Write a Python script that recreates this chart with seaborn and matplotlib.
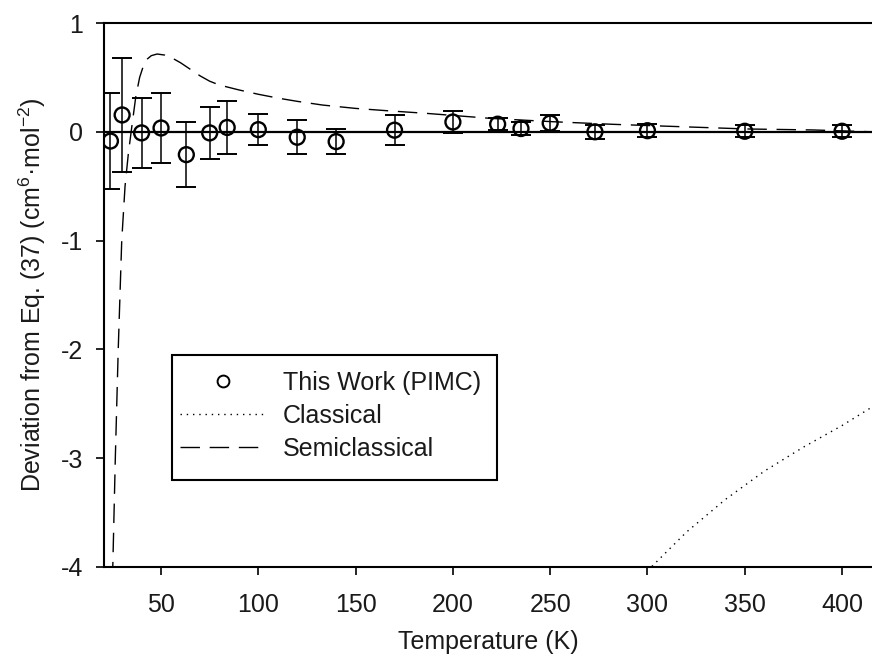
import numpy as np
import pandas as pd
import matplotlib
matplotlib.use("Agg")
import matplotlib.pyplot as plt
import seaborn as sns
from matplotlib.lines import Line2D
from matplotlib.patches import Rectangle

# ---- data ----
pimc_T = [24, 30, 40, 50, 63, 75, 84, 100, 120, 140, 170, 200, 223, 235, 250, 273, 300, 350, 400]
pimc_dev = [-0.085, 0.155, -0.01, 0.035, -0.21, -0.01, 0.04, 0.02, -0.05, -0.09, 0.015, 0.09, 0.07,
            0.03, 0.08, 0.0, 0.01, 0.005, 0.005]
pimc_err = [0.44, 0.52, 0.32, 0.32, 0.30, 0.24, 0.24, 0.14, 0.155, 0.115, 0.14, 0.10, 0.055,
            0.06, 0.075, 0.065, 0.06, 0.055, 0.055]

semi_T = [24.6, 25.2, 26.5, 28.0, 29.8, 31.5, 33.2, 35, 37, 39, 41, 43, 45, 48, 52, 56, 60, 65,
          70, 75, 80, 90, 100, 110, 120, 133, 150, 166, 186, 219, 251, 282, 317, 351, 385, 415.4]
semi_dev = [-4.4, -4.0, -3.0, -2.0, -1.0, -0.5, -0.2, 0.05, 0.32, 0.50, 0.61, 0.67, 0.70, 0.715,
            0.705, 0.675, 0.635, 0.575, 0.515, 0.465, 0.43, 0.385, 0.345, 0.31, 0.28, 0.246,
            0.215, 0.194, 0.17, 0.124, 0.093, 0.069, 0.047, 0.026, 0.017, 0.0]

class_T = [298, 302, 320, 340, 360, 380, 400, 415.4]
class_dev = [-4.08, -4.0, -3.68, -3.38, -3.12, -2.90, -2.70, -2.53]

x_ticks = [50, 100, 150, 200, 250, 300, 350, 400]
y_ticks = [-4, -3, -2, -1, 0, 1]

# ---- style ----
sns.set_style("ticks")
plt.rcParams["font.family"] = ["Liberation Sans", "DejaVu Sans"]
plt.rcParams["mathtext.fontset"] = "custom"
plt.rcParams["mathtext.rm"] = "Liberation Sans"
plt.rcParams["mathtext.it"] = "Liberation Sans:italic"
plt.rcParams["mathtext.default"] = "regular"
plt.rcParams["axes.unicode_minus"] = False

FS = 18
TXT = "#1a1a1a"

fig = plt.figure(figsize=(8.72, 6.65), dpi=100)
ax = fig.add_axes([0.1193, 0.1474, 0.8807, 0.8180])

semi_df = pd.DataFrame({"T": semi_T, "dev": semi_dev})
class_df = pd.DataFrame({"T": class_T, "dev": class_dev})
pimc_df = pd.DataFrame({"T": pimc_T, "dev": pimc_dev, "err": pimc_err})

ax.axhline(0, color="black", lw=1.6, zorder=1)

sns.lineplot(data=semi_df, x="T", y="dev", ax=ax, color="black", lw=1.0,
             sort=False, zorder=2)
ax.lines[-1].set_dashes((14, 7))
sns.lineplot(data=class_df, x="T", y="dev", ax=ax, color="black", lw=1.0,
             sort=False, zorder=2)
ax.lines[-1].set_dashes((1, 3.5))

ax.errorbar(pimc_df["T"], pimc_df["dev"], yerr=pimc_df["err"], fmt="none",
            ecolor="black", elinewidth=1.1, capsize=7.5, capthick=1.4, zorder=3)
sns.scatterplot(data=pimc_df, x="T", y="dev", ax=ax, marker="o", s=115,
                facecolor="none", edgecolor="black", linewidth=1.7, zorder=4)

ax.set_xlim(20.7, 415.4)
ax.set_ylim(-4, 1)
ax.set_xticks(x_ticks)
ax.set_yticks(y_ticks)
ax.set_xticklabels([str(t) for t in x_ticks])
ax.set_yticklabels([str(t) for t in y_ticks])
ax.tick_params(axis="both", direction="out", length=6, width=1.2, labelsize=FS,
               color="black", labelcolor=TXT)
ax.tick_params(axis="x", pad=13)
ax.tick_params(axis="y", pad=9)
for side in ["left", "bottom", "top"]:
    ax.spines[side].set_visible(True)
    ax.spines[side].set_linewidth(1.5)
    ax.spines[side].set_color("black")
ax.spines["right"].set_visible(False)

ax.set_xlabel("Temperature (K)", fontsize=FS, labelpad=9, color=TXT)
ax.set_ylabel("Deviation from Eq. (37) (cm$^{6}$·mol$^{-2}$)", fontsize=FS,
              labelpad=9, color=TXT)

# legend frame (drawn as a box in axes coordinates)
frame = Rectangle((0.0885, 0.16), 0.5117 - 0.0885, 0.3897 - 0.16, transform=ax.transAxes,
                  facecolor="white", edgecolor="black", lw=1.5, zorder=5)
ax.add_patch(frame)

handles = [
    Line2D([], [], ls="none", marker="o", markersize=8.5, markerfacecolor="none",
           markeredgecolor="black", markeredgewidth=1.4),
    Line2D([], [], color="black", lw=1.0, dashes=(1, 3.5)),
    Line2D([], [], color="black", lw=1.0, dashes=(14, 7)),
]
labels = ["This Work (PIMC)", "Classical", "Semiclassical"]
leg = ax.legend(handles, labels, loc="center left", bbox_to_anchor=(0.099, 0.2776),
                fontsize=FS, handlelength=3.4, handletextpad=0.72,
                labelspacing=0.35, borderpad=0, borderaxespad=0, frameon=False)
leg.set_zorder(6)
for t in leg.get_texts():
    t.set_color(TXT)

fig.savefig("out.png", dpi=100)
